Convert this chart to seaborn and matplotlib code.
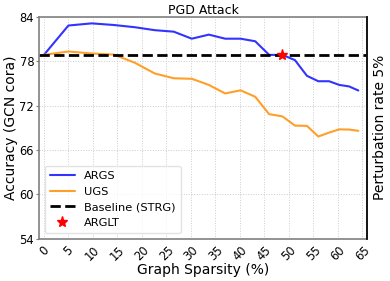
import matplotlib
matplotlib.use("Agg")
import matplotlib.pyplot as plt
import seaborn as sns
import pandas as pd
from matplotlib.lines import Line2D

sparsity = [0.0, 5.0, 9.75, 14.26, 18.55, 22.62, 26.49, 30.17, 33.66, 36.98, 40.13,
            43.12, 45.96, 48.67, 51.23, 53.67, 55.99, 58.19, 60.28, 62.26, 64.15]
args_acc = [78.86, 82.83, 83.12, 82.9, 82.6, 82.2, 82.0, 81.05, 81.6, 81.05, 81.05,
            80.7, 78.86, 78.86, 78.15, 76.03, 75.3, 75.3, 74.8, 74.6, 74.05]
ugs_acc = [78.86, 79.32, 79.05, 78.9, 77.8, 76.35, 75.7, 75.63, 74.8, 73.65, 74.07,
           73.2, 70.85, 70.55, 69.3, 69.27, 67.83, 68.36, 68.8, 68.77, 68.6]
baseline = 78.86
arglt_x = [48.67]
arglt_y = [78.86]
xticks = list(range(0, 66, 5))
yticks = [54, 60, 66, 72, 78, 84]

sns.set_theme(style="whitegrid")
plt.rcParams['font.family'] = ['DejaVu Sans']
plt.rcParams['text.color'] = 'black'
plt.rcParams['axes.labelcolor'] = 'black'
plt.rcParams['xtick.color'] = 'black'
plt.rcParams['ytick.color'] = 'black'

df = pd.DataFrame({"s": sparsity * 2,
                   "acc": args_acc + ugs_acc,
                   "method": ["ARGS"] * len(sparsity) + ["UGS"] * len(sparsity)})

fig, ax = plt.subplots(figsize=(3.9, 2.81), dpi=100)
sns.lineplot(data=df, x="s", y="acc", hue="method",
             palette={"ARGS": "#3333ff", "UGS": "#ff9f2a"}, linewidth=1.5, ax=ax,
             legend=False)
ax.axhline(baseline, color="black", linestyle="--", linewidth=2)
ax.plot(arglt_x, arglt_y, linestyle="none", marker="*", color="red", markersize=8)

handles = [Line2D([], [], color="#3333ff", lw=1.5, label="ARGS"),
           Line2D([], [], color="#ff9f2a", lw=1.5, label="UGS"),
           Line2D([], [], color="black", lw=2, linestyle="--", label="Baseline (STRG)"),
           Line2D([], [], color="red", marker="*", linestyle="none", markersize=8, label="ARGLT")]
leg = ax.legend(handles=handles, loc="lower left", fontsize=8.2, frameon=True,
                handlelength=2.2, borderpad=0.45, labelspacing=0.5)
leg.get_frame().set_edgecolor("#dddddd")

ax.set_xlim(-1, 66)
ax.set_ylim(54, 84)
ax.set_xticks(xticks)
ax.set_yticks(yticks)
ax.tick_params(axis="x", rotation=45, labelsize=8.3, length=2.5, width=0.8,
               color="#808080", labelcolor="black", pad=1)
ax.tick_params(axis="y", labelsize=8.3, length=2.5, width=0.8, color="#808080",
               labelcolor="black", pad=1)
ax.grid(True, linestyle=":", color="#cccccc", linewidth=0.7)
for sp in ax.spines.values():
    sp.set_color("#808080")
    sp.set_linewidth(1.2)
ax.set_xlabel("Graph Sparsity (%)", fontsize=10, labelpad=0)
ax.set_ylabel("Accuracy (GCN cora)", fontsize=10, labelpad=1)
ax.set_title("PGD Attack", fontsize=9, pad=2)

ax2 = ax.twinx()
ax2.set_yticks([])
ax2.grid(False)
for name, sp in ax2.spines.items():
    sp.set_visible(name == "right")
ax2.spines["right"].set_color("black")
ax2.spines["right"].set_linewidth(1.2)
ax2.set_ylabel("Perturbation rate 5%", fontsize=10, labelpad=4)

fig.subplots_adjust(left=0.1, right=0.942, top=0.94, bottom=0.15)
fig.savefig("out.png", dpi=100)
